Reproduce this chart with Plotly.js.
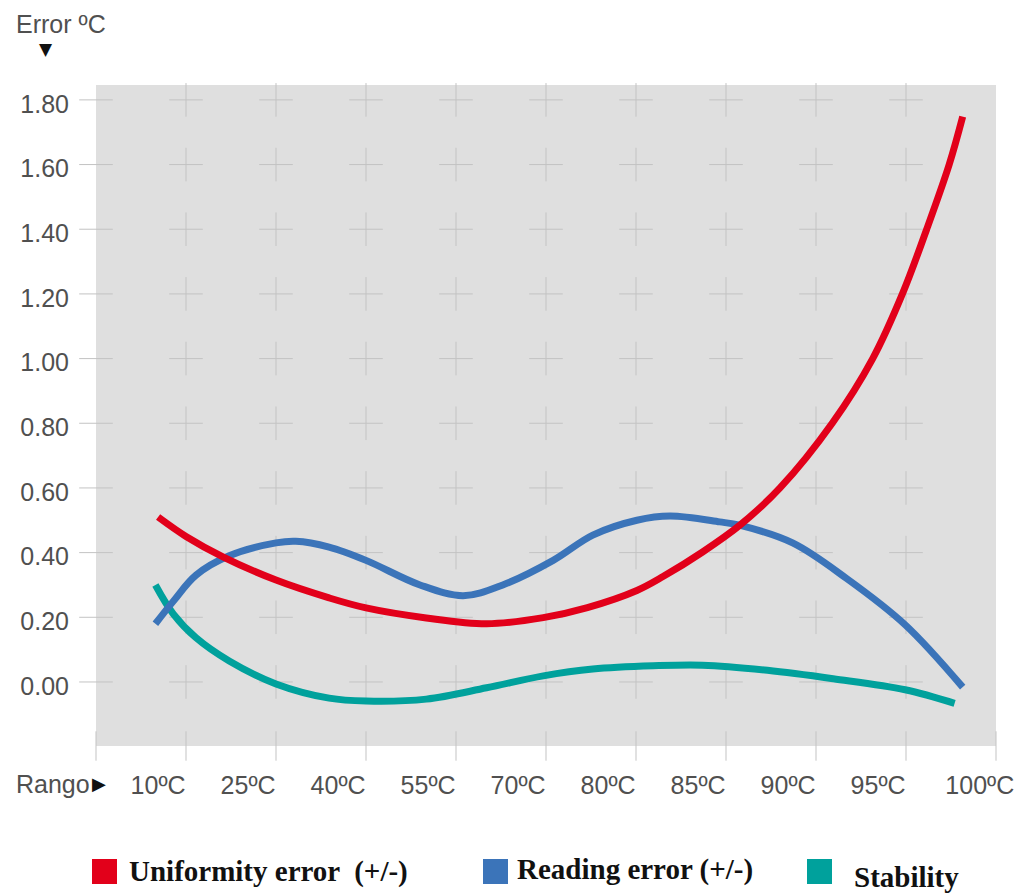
<!DOCTYPE html>
<html>
<head>
<meta charset="utf-8">
<script src="https://cdn.plot.ly/plotly-3.0.1.min.js"></script>
<style>
  html, body { margin: 0; padding: 0; background: #ffffff; }
  #chart { width: 1018px; height: 893px; }
</style>
</head>
<body>
<div id="chart"></div>
<script>
// ---- Data ----
const xLabels = ['10ºC', '25ºC', '40ºC', '55ºC', '70ºC', '80ºC', '85ºC', '90ºC', '95ºC', '100ºC'];
const xTickPos = [0.69, 1.69, 2.69, 3.69, 4.69, 5.69, 6.69, 7.69, 8.69, 9.82];
const yTicks = [0, 0.2, 0.4, 0.6, 0.8, 1.0, 1.2, 1.4, 1.6, 1.8];

const seriesNames = ['Uniformity error  (+/-)', 'Reading error (+/-)', 'Stability'];

const uniformityX = [0.69, 1.0, 1.41, 2.0, 2.59, 3.0, 3.67, 4.34, 4.97, 5.46, 6.01, 6.30, 6.74, 7.16, 7.60, 8.18, 8.63, 8.96, 9.23, 9.48, 9.63];
const uniformityY = [0.51, 0.45, 0.387, 0.315, 0.26, 0.229, 0.198, 0.18, 0.199, 0.23, 0.283, 0.326, 0.402, 0.486, 0.60, 0.80, 1.00, 1.20, 1.40, 1.60, 1.748];

const readingX = [0.66, 0.86, 1.11, 1.48, 2.0, 2.22, 2.59, 3.0, 3.6, 4.08, 4.52, 5.08, 5.52, 6.01, 6.38, 6.93, 7.16, 7.74, 8.34, 8.99, 9.63];
const readingY = [0.18, 0.25, 0.33, 0.39, 0.43, 0.435, 0.417, 0.376, 0.30, 0.267, 0.30, 0.376, 0.454, 0.50, 0.513, 0.495, 0.484, 0.43, 0.32, 0.177, -0.016];

const stabilityX = [0.66, 0.86, 1.11, 1.48, 2.0, 2.59, 3.0, 3.67, 4.34, 4.97, 5.52, 6.19, 6.74, 7.46, 8.19, 8.99, 9.54];
const stabilityY = [0.30, 0.21, 0.137, 0.065, -0.006, -0.05, -0.059, -0.053, -0.018, 0.019, 0.04, 0.05, 0.052, 0.036, 0.01, -0.024, -0.066];

const seriesColors = ['#e2001a', '#3b74b9', '#00a19c'];

// ---- Layout helpers ----
const W = 1018, H = 893;
const M = { l: 96, r: 22, t: 85, b: 147 };
const PW = W - M.l - M.r, PH = H - M.t - M.b;
const xp = px => (px - M.l) / PW;
const yp = py => (H - M.b - py) / PH;
const Y_MIN = -0.198, Y_MAX = 1.846;
const sans = 'Liberation Sans, Arial, Helvetica, sans-serif';
const serif = 'Liberation Serif, Times New Roman, serif';
const labelColor = '#505050';
const gridColor = '#c3c3c3';

// grid crosses built from the axis ticks
const crossX = [], crossY = [];
for (let gx = 1; gx <= 9; gx++) {
  yTicks.forEach(v => { crossX.push(gx); crossY.push(v); });
}
const bottomX = [], bottomY = [];
for (let gx = 0; gx <= 10; gx++) { bottomX.push(gx); bottomY.push(Y_MIN); }

const lineStyle = c => ({ color: c, width: 7, shape: 'spline', smoothing: 1 });

const traces = [
  {
    x: crossX, y: crossY, mode: 'markers', type: 'scatter', hoverinfo: 'skip', cliponaxis: false,
    marker: { symbol: 'cross-thin', size: 24, color: gridColor, line: { color: gridColor, width: 1 } }
  },
  {
    x: yTicks.map(() => 0), y: yTicks, mode: 'markers', type: 'scatter', hoverinfo: 'skip', cliponaxis: false,
    marker: { symbol: 'line-ew', size: 24, color: gridColor, line: { color: gridColor, width: 1 } }
  },
  {
    x: bottomX, y: bottomY, mode: 'markers', type: 'scatter', hoverinfo: 'skip', cliponaxis: false,
    marker: { symbol: 'line-ns', size: 21, color: gridColor, line: { color: gridColor, width: 1 } }
  },
  { name: seriesNames[2], x: stabilityX, y: stabilityY, mode: 'lines', type: 'scatter', line: lineStyle(seriesColors[2]) },
  { name: seriesNames[1], x: readingX, y: readingY, mode: 'lines', type: 'scatter', line: lineStyle(seriesColors[1]) },
  { name: seriesNames[0], x: uniformityX, y: uniformityY, mode: 'lines', type: 'scatter', line: lineStyle(seriesColors[0]) }
];

const legendSquares = [92, 483, 807];
const legendTextX = [127, 515, 852];
const legendTextY = [871, 869, 877];

const annotations = [
  { xref: 'paper', yref: 'paper', x: xp(14), y: yp(24), xanchor: 'left', yanchor: 'middle', showarrow: false,
    text: 'Error ºC', font: { family: sans, size: 25, color: labelColor } },
  { xref: 'paper', yref: 'paper', x: xp(46), y: yp(49), xanchor: 'center', yanchor: 'middle', showarrow: false,
    text: '▼', font: { family: 'DejaVu Sans, sans-serif', size: 17, color: '#111111' } },
  { xref: 'paper', yref: 'paper', x: xp(14), y: yp(784), xanchor: 'left', yanchor: 'middle', showarrow: false,
    text: 'Rango', font: { family: sans, size: 25, color: labelColor } },
  { xref: 'paper', yref: 'paper', x: xp(99), y: yp(783), xanchor: 'center', yanchor: 'middle', showarrow: false,
    text: '▶', font: { family: 'DejaVu Sans, sans-serif', size: 18, color: '#111111' } }
];
seriesNames.forEach((n, i) => {
  annotations.push({ xref: 'paper', yref: 'paper', x: xp(legendSquares[i]), y: yp(859), xanchor: 'left', yanchor: 'top',
    showarrow: false, text: '\u00a0', width: 25, height: 25, bgcolor: seriesColors[i], borderpad: 0, borderwidth: 0,
    font: { size: 10 } });
  annotations.push({ xref: 'paper', yref: 'paper', x: xp(legendTextX[i]), y: yp(legendTextY[i]), xanchor: 'left', yanchor: 'middle',
    showarrow: false, text: n, font: { family: serif, size: 29, color: '#111111', weight: 'bold' } });
});

const layout = {
  width: W, height: H,
  margin: M,
  paper_bgcolor: '#ffffff',
  plot_bgcolor: '#dfdfdf',
  showlegend: false,
  xaxis: {
    range: [0, 10], tickmode: 'array', tickvals: xTickPos, ticktext: xLabels,
    ticks: '', showgrid: false, zeroline: false, showline: false, fixedrange: true,
    tickfont: { family: sans, size: 25, color: labelColor }, ticklabelstandoff: 22
  },
  yaxis: {
    range: [Y_MIN, Y_MAX], tickmode: 'array', tickvals: yTicks, ticktext: yTicks.map(v => v.toFixed(2)),
    ticks: '', showgrid: false, zeroline: false, showline: false, fixedrange: true,
    tickfont: { family: sans, size: 25, color: labelColor }, ticklabelstandoff: 26, ticklabelshift: 4
  },
  annotations: annotations
};

Plotly.newPlot('chart', traces, layout, { displayModeBar: false, staticPlot: true });
</script>
</body>
</html>
